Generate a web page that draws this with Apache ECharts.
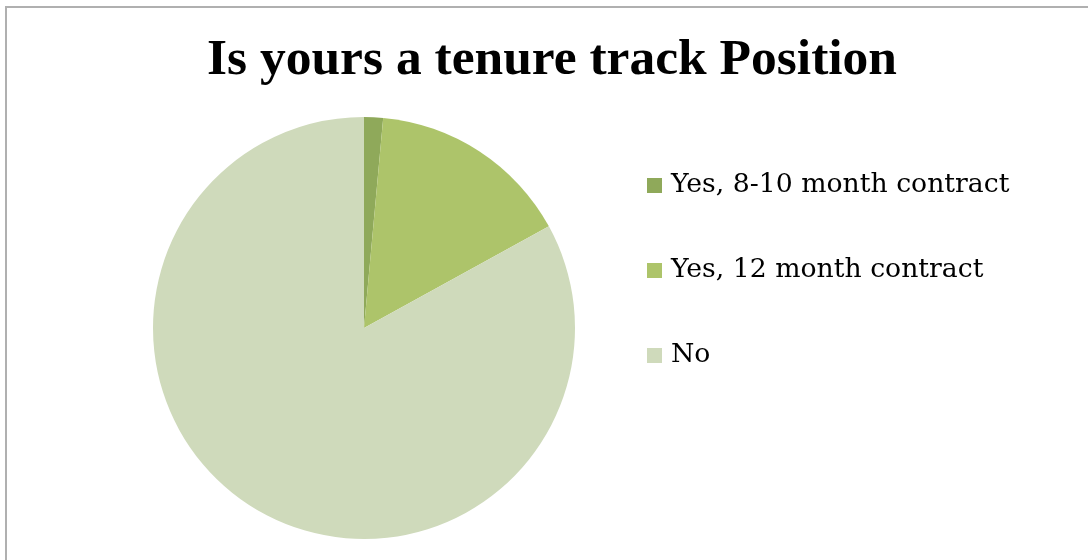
<!DOCTYPE html>
<html><head><meta charset="utf-8">
<script src="https://cdn.jsdelivr.net/npm/echarts@6/dist/echarts.min.js"></script>
<style>html,body{margin:0;padding:0;background:#fff}#c{width:1088px;height:560px}</style>
</head><body><div id="c"></div>
<script>
const titleText = 'Is yours a tenure track Position';
const categories = ['Yes, 8-10 month contract', 'Yes, 12 month contract', 'No'];
const values = [1.45, 15.55, 83.0];
const colors = ['#8fa95a', '#adc46a', '#cfdabb'];

const chart = echarts.init(document.getElementById('c'), null, {renderer: 'canvas'});
chart.setOption({
  animation: false,
  backgroundColor: '#ffffff',
  title: {
    text: titleText, left: 547, top: 30, textAlign: 'center',
    textStyle: {fontFamily: 'Liberation Serif', fontWeight: 'bold', fontSize: 51.5, color: '#000'}
  },
  legend: {
    orient: 'vertical', left: 642, top: 167, itemGap: 58,
    itemWidth: 15, itemHeight: 15, icon: 'rect',
    textStyle: {fontFamily: 'DejaVu Serif', fontSize: 26.7, color: '#000', padding: [0,0,0,4]},
    data: categories
  },
  graphic: [{
    type: 'polyline', shape: {points: [[6, 600], [6, 7], [1100, 7]]},
    style: {stroke: '#b0b0b0', lineWidth: 2, fill: null}
  }],
  series: [{
    type: 'pie', center: [364, 328], radius: 211, startAngle: 90, clockwise: true,
    label: {show: false}, labelLine: {show: false},
    itemStyle: {borderWidth: 0},
    emphasis: {disabled: true},
    data: categories.map((n, i) => ({name: n, value: values[i], itemStyle: {color: colors[i]}}))
  }]
});
</script></body></html>
